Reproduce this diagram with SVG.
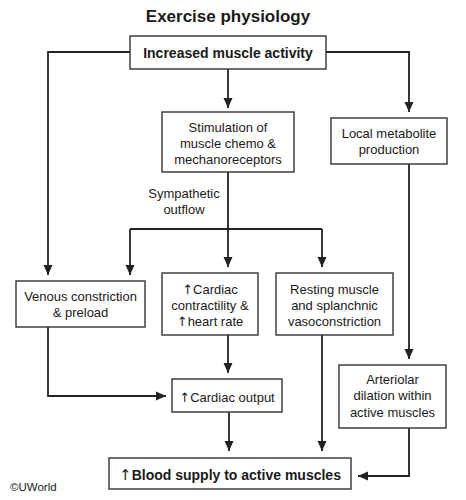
<svg xmlns="http://www.w3.org/2000/svg" width="466" height="500" viewBox="0 0 466 500">
<style>
text{font-family:"Liberation Sans",Arial,sans-serif;fill:#1a1a1a;text-anchor:middle}
.t{font-size:17px;font-weight:bold}
.b{font-size:14px;font-weight:bold}
.n{font-size:13px}
.up{font-family:"DejaVu Sans",sans-serif;font-size:13px;font-weight:normal;fill:#1a1a1a}
.box{fill:#fff;stroke:#333;stroke-width:1.4}
.c{fill:none;stroke:#222;stroke-width:1.8}
</style>
<defs>
<marker id="ah" markerUnits="userSpaceOnUse" markerWidth="10" markerHeight="10" refX="10" refY="5" orient="auto">
<path d="M0,0.5 L10,5 L0,9.5 z" fill="#222"/>
</marker>
</defs>
<rect width="466" height="500" fill="#fff"/>
<text class="t" x="228" y="22">Exercise physiology</text>

<g id="connectors">
<path class="c" d="M130,52 H48 V275" marker-end="url(#ah)"/>
<path class="c" d="M228,69 V108" marker-end="url(#ah)"/>
<path class="c" d="M326,52 H409 V112" marker-end="url(#ah)"/>
<path class="c" d="M228,172 V229 M130,229 H322"/>
<path class="c" d="M130,229 V275" marker-end="url(#ah)"/>
<path class="c" d="M228,229 V267" marker-end="url(#ah)"/>
<path class="c" d="M322,229 V267" marker-end="url(#ah)"/>
<path class="c" d="M409,164 V359" marker-end="url(#ah)"/>
<path class="c" d="M228,335 V373" marker-end="url(#ah)"/>
<path class="c" d="M48,327 V396 H166" marker-end="url(#ah)"/>
<path class="c" d="M229,412 V451" marker-end="url(#ah)"/>
<path class="c" d="M322,335 V451" marker-end="url(#ah)"/>
<path class="c" d="M409,428 V476 H358" marker-end="url(#ah)"/>
<text class="n" x="184" y="198">Sympathetic</text>
<text class="n" x="184" y="214">outflow</text>
</g>

<g id="increased">
<rect class="box" x="130" y="36" width="196" height="33"/>
<text class="b" x="228" y="57.5">Increased muscle activity</text>
</g>
<g id="stimulation">
<rect class="box" x="162" y="112" width="132" height="60"/>
<text class="n" x="228" y="131.5">Stimulation of</text>
<text class="n" x="228" y="147.5">muscle chemo &amp;</text>
<text class="n" x="228" y="163.5">mechanoreceptors</text>
</g>
<g id="local">
<rect class="box" x="331" y="118" width="116" height="46"/>
<text class="n" x="389" y="137.5">Local metabolite</text>
<text class="n" x="389" y="153.5">production</text>
</g>
<g id="venous">
<rect class="box" x="16" y="281" width="129" height="46"/>
<text class="n" x="80.5" y="300.5">Venous constriction</text>
<text class="n" x="80.5" y="316.5">&amp; preload</text>
</g>
<g id="cardiac">
<rect class="box" x="162" y="273" width="96" height="62"/>
<text class="n" x="210" y="293.5"><tspan class="up">↑</tspan>Cardiac</text>
<text class="n" x="210" y="309.5">contractility &amp;</text>
<text class="n" x="210" y="325.5"><tspan class="up">↑</tspan>heart rate</text>
</g>
<g id="resting">
<rect class="box" x="276" y="273" width="117" height="62"/>
<text class="n" x="334.5" y="293.5">Resting muscle</text>
<text class="n" x="334.5" y="309.5">and splanchnic</text>
<text class="n" x="334.5" y="325.5">vasoconstriction</text>
</g>
<g id="output">
<rect class="box" x="172" y="379" width="110" height="33"/>
<text class="n" x="227" y="401.5"><tspan class="up">↑</tspan>Cardiac output</text>
</g>
<g id="arteriolar">
<rect class="box" x="339" y="365" width="107" height="63"/>
<text class="n" x="392.5" y="383.5">Arteriolar</text>
<text class="n" x="392.5" y="399.5">dilation within</text>
<text class="n" x="392.5" y="416.5">active muscles</text>
</g>
<g id="blood">
<rect class="box" x="109" y="458" width="242" height="31"/>
<text class="b" x="230" y="480"><tspan class="up" style="font-size:15px">↑</tspan>Blood supply to active muscles</text>
</g>
<text x="10" y="491" style="font-size:11.5px;text-anchor:start">©UWorld</text>
</svg>
